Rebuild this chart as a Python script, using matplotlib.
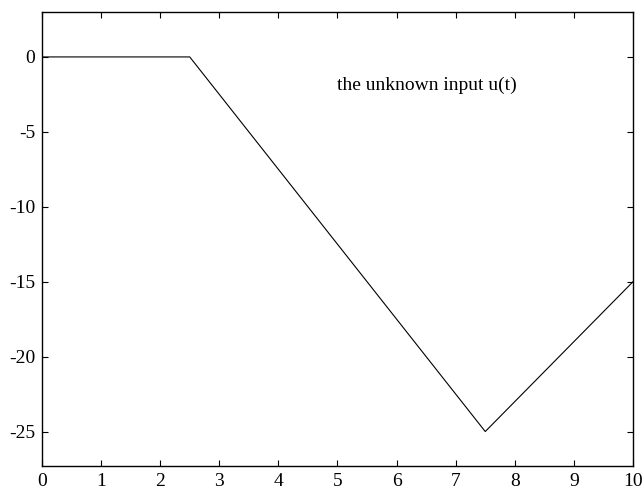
import matplotlib
matplotlib.use('Agg')
import matplotlib.pyplot as plt

# breakpoints of the unknown input u(t)
t_pts = [0, 2.5, 7.5, 10]
u_pts = [0, 0, -25, -15]
x_ticks = [0, 1, 2, 3, 4, 5, 6, 7, 8, 9, 10]
y_ticks = [0, -5, -10, -15, -20, -25]

plt.rcParams['font.family'] = ['Liberation Serif', 'DejaVu Serif']
plt.rcParams['axes.unicode_minus'] = False

fig = plt.figure(figsize=(6.42, 4.91), dpi=100)
ax = fig.add_axes([0.0654, 0.0509, 0.9206, 0.9247])

ax.plot(t_pts, u_pts, color='black', linewidth=0.8)
ax.text(5.0, -1.87, 'the unknown input u(t)', fontsize=14, va='center', ha='left')

ax.set_xlim(0, 10)
ax.set_ylim(-27.3, 3)
ax.set_xticks(x_ticks)
ax.set_yticks(y_ticks)
ax.tick_params(direction='in', top=True, right=True, length=4, width=0.8,
               labelsize=14, pad=5)
for s in ax.spines.values():
    s.set_linewidth(1.0)

fig.savefig('out.png', dpi=100)
